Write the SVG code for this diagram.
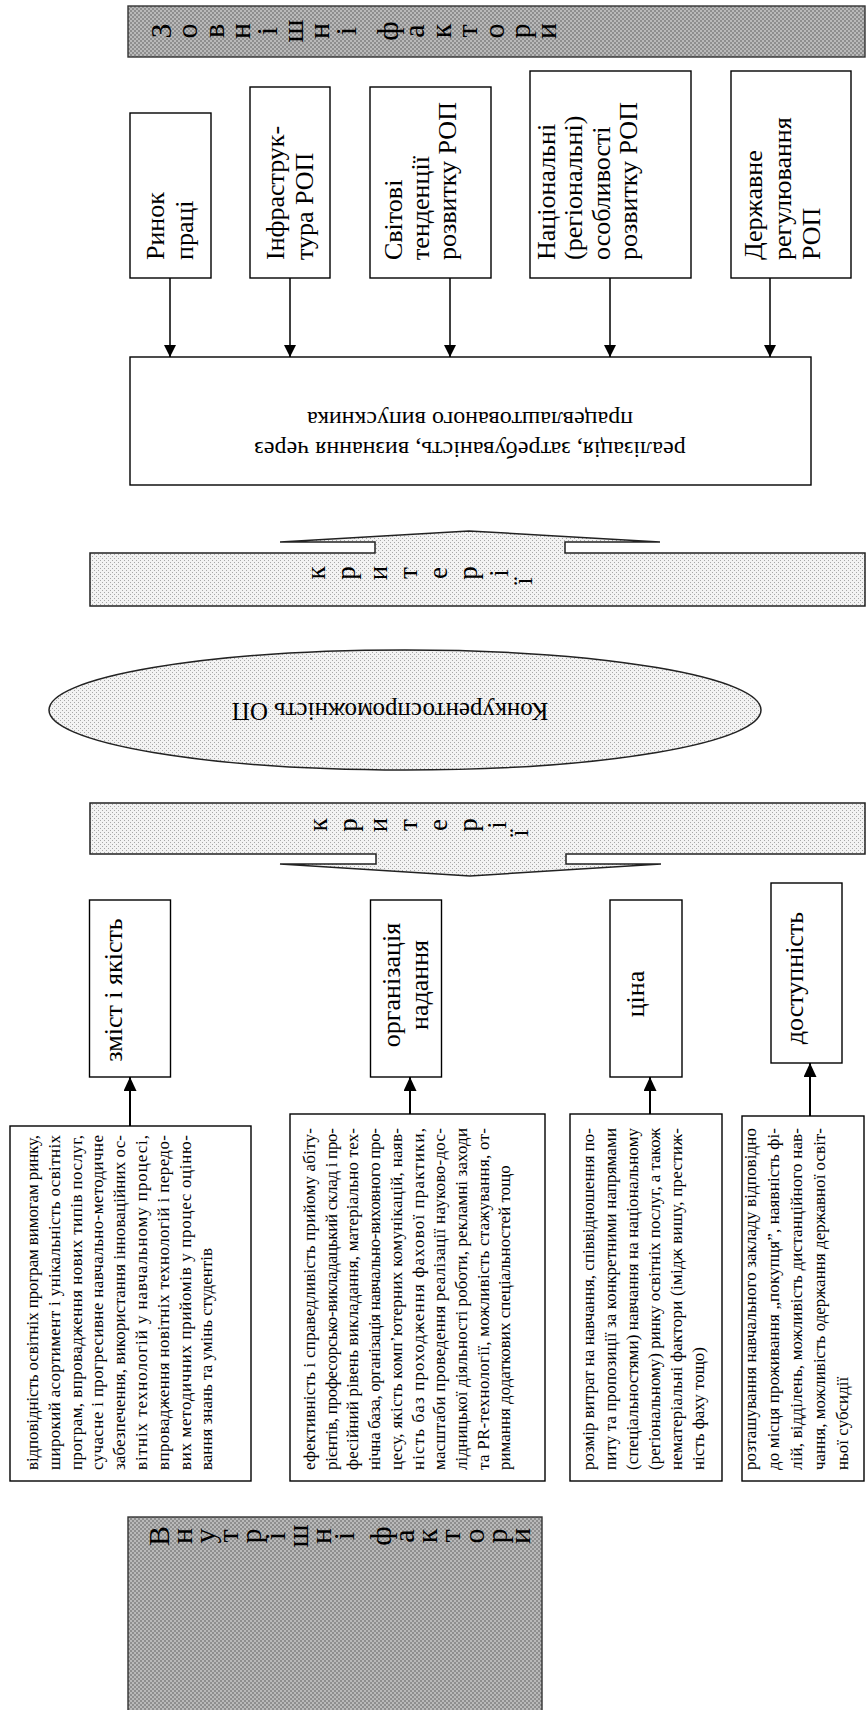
<svg xmlns="http://www.w3.org/2000/svg" width="867" height="1710" viewBox="0 0 867 1710">
<style>
.bx{fill:#fff;stroke:#000;stroke-width:1.4}
.lbl{font-family:'Liberation Serif','Times New Roman',serif;font-size:26px;fill:#000}
.big{font-family:'Liberation Serif','Times New Roman',serif;font-size:24px;fill:#000}
.par{font-family:'Liberation Serif','Times New Roman',serif;font-size:17px;fill:#000}
.let{font-family:'Liberation Serif','Times New Roman',serif;font-size:30px;fill:#000;text-anchor:middle;dominant-baseline:central}
.let2{font-family:'Liberation Serif','Times New Roman',serif;font-size:27px;fill:#000;text-anchor:middle;dominant-baseline:central}
.con{stroke:#000;stroke-width:1.5;fill:none}
.con2{stroke:#000;stroke-width:2;fill:none}
</style>
<defs>
<pattern id="dk" width="4" height="4" patternUnits="userSpaceOnUse"><rect width="4" height="4" fill="#b9b9b9"/><rect width="2" height="2" fill="#8e8e8e"/><rect x="2" y="2" width="2" height="2" fill="#8e8e8e"/></pattern>
<pattern id="lt" width="4" height="4" patternUnits="userSpaceOnUse"><rect width="4" height="4" fill="#f3f3f3"/><rect width="1" height="1" fill="#a8a8a8"/><rect x="2" y="2" width="1" height="1" fill="#a8a8a8"/></pattern>
<marker id="ah" markerUnits="userSpaceOnUse" markerWidth="12" markerHeight="15" refX="12" refY="6" orient="auto"><path d="M0,0 L12,6 L0,12 Z" fill="#000"/></marker>
<marker id="ah2" markerUnits="userSpaceOnUse" markerWidth="14" markerHeight="15" refX="14" refY="6.5" orient="auto"><path d="M0,0 L14,6.5 L0,13 Z" fill="#000"/></marker>
</defs>
<rect width="867" height="1710" fill="#fff"/>

<g id="top-bar">
<rect x="128" y="6" width="737" height="51" fill="url(#dk)" stroke="#333" stroke-width="1.4"/>
<text class="let" transform="translate(160,31) rotate(-90)">З</text>
<text class="let" transform="translate(186,31) rotate(-90)">о</text>
<text class="let" transform="translate(213,31) rotate(-90)">в</text>
<text class="let" transform="translate(239,31) rotate(-90)">н</text>
<text class="let" transform="translate(266,31) rotate(-90)">і</text>
<text class="let" transform="translate(292,31) rotate(-90)">ш</text>
<text class="let" transform="translate(318,31) rotate(-90)">н</text>
<text class="let" transform="translate(345,31) rotate(-90)">і</text>
<text class="let" transform="translate(387,31) rotate(-90)">ф</text>
<text class="let" transform="translate(413,31) rotate(-90)">а</text>
<text class="let" transform="translate(440,31) rotate(-90)">к</text>
<text class="let" transform="translate(466,31) rotate(-90)">т</text>
<text class="let" transform="translate(493,31) rotate(-90)">о</text>
<text class="let" transform="translate(519,31) rotate(-90)">р</text>
<text class="let" transform="translate(545,31) rotate(-90)">и</text>
</g>

<g id="n-rynok">
<rect class="bx" x="130" y="113" width="81" height="165"/>
<text class="lbl" transform="translate(164,260) rotate(-90)">Ринок</text>
<text class="lbl" transform="translate(193,260) rotate(-90)">праці</text>
</g>
<g id="n-infra">
<rect class="bx" x="250" y="87" width="80" height="191"/>
<text class="lbl" transform="translate(284,260) rotate(-90)">Інфраструк-</text>
<text class="lbl" transform="translate(313,260) rotate(-90)">тура РОП</text>
</g>
<g id="n-svitovi">
<rect class="bx" x="370" y="87" width="121" height="191"/>
<text class="lbl" transform="translate(402,260) rotate(-90)">Світові</text>
<text class="lbl" transform="translate(429,260) rotate(-90)">тенденції</text>
<text class="lbl" transform="translate(456,260) rotate(-90)">розвитку РОП</text>
</g>
<g id="n-nats">
<rect class="bx" x="530" y="71" width="161" height="207"/>
<text class="lbl" transform="translate(555,260) rotate(-90)">Національні</text>
<text class="lbl" transform="translate(582,260) rotate(-90)">(регіональні)</text>
<text class="lbl" transform="translate(610,260) rotate(-90)">особливості</text>
<text class="lbl" transform="translate(637,260) rotate(-90)">розвитку РОП</text>
</g>
<g id="n-derzh">
<rect class="bx" x="731" y="71" width="120" height="207"/>
<text class="lbl" transform="translate(762,260) rotate(-90)">Державне</text>
<text class="lbl" transform="translate(791,260) rotate(-90)">регулювання</text>
<text class="lbl" transform="translate(820,260) rotate(-90)">РОП</text>
</g>

<g id="n-realiz">
<rect class="bx" x="130" y="357" width="681" height="128"/>
<text class="big" text-anchor="middle" transform="translate(470,442) rotate(180)">реалізація, затребуваність, визнання через</text>
<text class="big" text-anchor="middle" transform="translate(470,412) rotate(180)">працевлаштованого випускника</text>
</g>

<g id="n-kryterii-up">
<path d="M90,606 L90,553 L375,553 L375,542 L280,542 L469,531 L660,542 L565,542 L565,553 L865,553 L865,606 Z" fill="url(#lt)" stroke="#222" stroke-width="1.5"/>
<text class="let2" transform="translate(316,573) rotate(-90)">к</text>
<text class="let2" transform="translate(346,573) rotate(-90)">р</text>
<text class="let2" transform="translate(378,573) rotate(-90)">и</text>
<text class="let2" transform="translate(408,573) rotate(-90)">т</text>
<text class="let2" transform="translate(438,573) rotate(-90)">е</text>
<text class="let2" transform="translate(468,573) rotate(-90)">р</text>
<text class="let2" transform="translate(499,573) rotate(-90)">і</text>
<text class="let2" transform="translate(523,581) rotate(-90)">ї</text>
</g>

<g id="n-konk">
<ellipse cx="405" cy="710" rx="356" ry="60" fill="url(#lt)" stroke="#222" stroke-width="1.5"/>
<text class="lbl" text-anchor="middle" transform="translate(390,703) rotate(180)" style="font-size:25px">Конкурентоспроможність ОП</text>
</g>

<g id="n-kryterii-down">
<path d="M90,803 L865,803 L865,854 L566,854 L566,864 L661,864 L470,876 L280,864 L376,864 L376,854 L90,854 Z" fill="url(#lt)" stroke="#222" stroke-width="1.5"/>
<text class="let2" transform="translate(318,825) rotate(-90)">к</text>
<text class="let2" transform="translate(348,825) rotate(-90)">р</text>
<text class="let2" transform="translate(378,825) rotate(-90)">и</text>
<text class="let2" transform="translate(408,825) rotate(-90)">т</text>
<text class="let2" transform="translate(438,825) rotate(-90)">е</text>
<text class="let2" transform="translate(468,825) rotate(-90)">р</text>
<text class="let2" transform="translate(497,825) rotate(-90)">і</text>
<text class="let2" transform="translate(519,833) rotate(-90)">ї</text>
</g>

<g id="n-zmist">
<rect class="bx" x="89.5" y="900" width="81" height="177"/>
<text class="lbl" text-anchor="middle" transform="translate(122,990) rotate(-90)">зміст і якість</text>
</g>
<g id="n-org">
<rect class="bx" x="370.5" y="900" width="71" height="177"/>
<text class="lbl" text-anchor="middle" transform="translate(400,985) rotate(-90)">організація</text>
<text class="lbl" text-anchor="middle" transform="translate(428,985) rotate(-90)">надання</text>
</g>
<g id="n-tsina">
<rect class="bx" x="610" y="900" width="72" height="177"/>
<text class="lbl" text-anchor="middle" transform="translate(644,994) rotate(-90)">ціна</text>
</g>
<g id="n-dostup">
<rect class="bx" x="771" y="883" width="71" height="180"/>
<text class="lbl" text-anchor="middle" transform="translate(803,978) rotate(-90)">доступність</text>
</g>

<g id="n-t1">
<rect class="bx" x="10" y="1126" width="241" height="355"/>
<g class="par" transform="translate(38,1470) rotate(-90)">
<text y="0" textLength="335">відповідність освітніх програм вимогам ринку,</text>
<text y="21.8" textLength="335">широкий асортимент і унікальність освітніх</text>
<text y="43.6" textLength="335">програм, впровадження нових типів послуг,</text>
<text y="65.4" textLength="335">сучасне і прогресивне навчально-методичне</text>
<text y="87.2" textLength="335">забезпечення, використання інноваційних ос-</text>
<text y="109" textLength="335">вітніх технологій у навчальному процесі,</text>
<text y="130.8" textLength="335">впровадження новітніх технологій і передо-</text>
<text y="152.6" textLength="335">вих методичних прийомів у процес оціню-</text>
<text y="174.4">вання знань та умінь студентів</text>
</g>
</g>
<g id="n-t2">
<rect class="bx" x="290" y="1114" width="255" height="367"/>
<g class="par" transform="translate(315,1470) rotate(-90)">
<text y="0" textLength="342">ефективність і справедливість прийому абіту-</text>
<text y="21.7" textLength="342">рієнтів, професорсько-викладацький склад і про-</text>
<text y="43.4" textLength="342">фесійний рівень викладання, матеріально тех-</text>
<text y="65.1" textLength="342">нічна база, організація навчально-виховного про-</text>
<text y="86.8" textLength="342">цесу, якість комп’ютерних комунікацій, наяв-</text>
<text y="108.5" textLength="342">ність баз проходження фахової практики,</text>
<text y="130.2" textLength="342">масштаби проведення реалізації науково-дос-</text>
<text y="151.9" textLength="342">лідницької діяльності роботи, рекламні заходи</text>
<text y="173.6" textLength="342">та PR-технології, можливість стажування, от-</text>
<text y="195.3">римання додаткових спеціальностей тощо</text>
</g>
</g>
<g id="n-t3">
<rect class="bx" x="570" y="1114" width="152" height="367"/>
<g class="par" transform="translate(594,1470) rotate(-90)">
<text y="0" textLength="342">розмір витрат на навчання, співвідношення по-</text>
<text y="22" textLength="342">питу та пропозиції за конкретними напрямами</text>
<text y="44" textLength="342">(спеціальностями) навчання на національному</text>
<text y="66" textLength="342">(регіональному) ринку освітніх послуг, а також</text>
<text y="88" textLength="342">нематеріальні фактори (імідж вишу, престиж-</text>
<text y="110">ність фаху тощо)</text>
</g>
</g>
<g id="n-t4">
<rect class="bx" x="742" y="1116" width="122" height="365"/>
<g class="par" transform="translate(756,1470) rotate(-90)">
<text y="0" textLength="342">розташування навчального закладу відповідно</text>
<text y="23" textLength="342">до місця проживання „покупця”, наявність фі-</text>
<text y="46" textLength="342">лій, відділень, можливість дистанційного нав-</text>
<text y="69" textLength="342">чання, можливість одержання державної освіт-</text>
<text y="92">ньої субсидії</text>
</g>
</g>

<g id="bottom-bar">
<rect x="128" y="1517" width="414" height="200" fill="url(#dk)" stroke="#333" stroke-width="1.4"/>
<text class="let" transform="translate(158,1536) rotate(-90)">В</text>
<text class="let" transform="translate(181,1536) rotate(-90)">н</text>
<text class="let" transform="translate(204,1536) rotate(-90)">у</text>
<text class="let" transform="translate(227,1536) rotate(-90)">т</text>
<text class="let" transform="translate(250,1536) rotate(-90)">р</text>
<text class="let" transform="translate(274,1536) rotate(-90)">і</text>
<text class="let" transform="translate(297,1536) rotate(-90)">ш</text>
<text class="let" transform="translate(320,1536) rotate(-90)">н</text>
<text class="let" transform="translate(343,1536) rotate(-90)">і</text>
<text class="let" transform="translate(380,1536) rotate(-90)">ф</text>
<text class="let" transform="translate(403,1536) rotate(-90)">а</text>
<text class="let" transform="translate(426,1536) rotate(-90)">к</text>
<text class="let" transform="translate(449,1536) rotate(-90)">т</text>
<text class="let" transform="translate(473,1536) rotate(-90)">о</text>
<text class="let" transform="translate(496,1536) rotate(-90)">р</text>
<text class="let" transform="translate(519,1536) rotate(-90)">и</text>
</g>

<g id="connectors">
<line class="con" x1="170" y1="278" x2="170" y2="357" marker-end="url(#ah)"/>
<line class="con" x1="290" y1="278" x2="290" y2="357" marker-end="url(#ah)"/>
<line class="con" x1="450" y1="278" x2="450" y2="357" marker-end="url(#ah)"/>
<line class="con" x1="610" y1="278" x2="610" y2="357" marker-end="url(#ah)"/>
<line class="con" x1="770" y1="278" x2="770" y2="357" marker-end="url(#ah)"/>
<line class="con2" x1="130" y1="1126" x2="130" y2="1077" marker-end="url(#ah2)"/>
<line class="con2" x1="410" y1="1114" x2="410" y2="1077" marker-end="url(#ah2)"/>
<line class="con2" x1="650" y1="1114" x2="650" y2="1077" marker-end="url(#ah2)"/>
<line class="con2" x1="810" y1="1116" x2="810" y2="1063" marker-end="url(#ah2)"/>
</g>
</svg>
